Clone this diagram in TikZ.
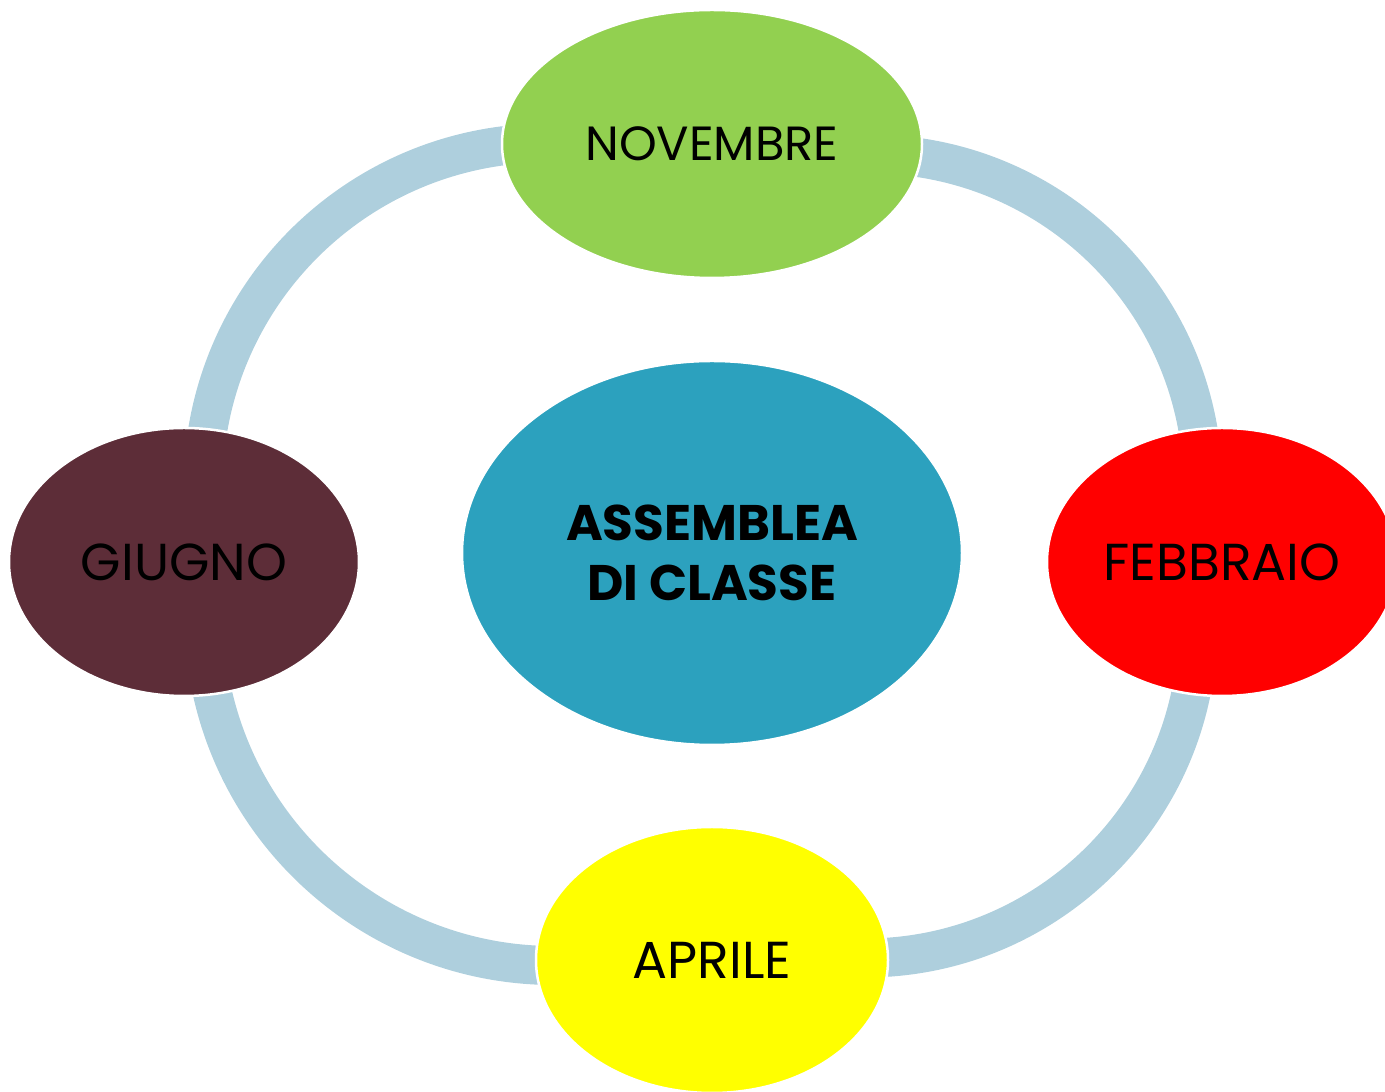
\documentclass[tikz,border=0pt]{standalone}
\usepackage{fontspec}
\setmainfont{Poppins}
\usetikzlibrary{shapes.geometric}
\definecolor{ringc}{RGB}{174,207,221}
\definecolor{novc}{RGB}{146,208,80}
\definecolor{febc}{RGB}{255,0,0}
\definecolor{aprc}{RGB}{255,255,0}
\definecolor{giuc}{RGB}{93,45,56}
\definecolor{cenc}{RGB}{44,161,190}
\begin{document}
\begin{tikzpicture}[x=1pt,y=1pt,
  month/.style={ellipse, draw=white, line width=2.5pt, inner sep=0pt, text=black,
    font=\fontsize{52}{60}\selectfont},
  ring/.style={draw=ringc, line width=39pt}]
\useasboundingbox (0,0) rectangle (1385,1092);
\clip (0,0) rectangle (1385,1092);
% ring arcs (centres of the arcs)
\coordinate (ulc) at (547,605);
\coordinate (urc) at (870,605);
\coordinate (llc) at (553.8,476.5);
\coordinate (lrc) at (865,467);
\draw[ring] ([shift={(92:344)}]ulc) arc[start angle=92, end angle=176, radius=344];
\draw[ring] ([shift={(86:333)}]urc) arc[start angle=86, end angle=5, radius=333];
\draw[ring] ([shift={(187:350)}]llc) arc[start angle=187, end angle=273, radius=350];
\draw[ring] ([shift={(-6:333)}]lrc) arc[start angle=-6, end angle=-92, radius=333];
% nodes
\node[month, fill=novc, minimum width=420, minimum height=268,
  font=\fontsize{48}{56}\selectfont] (nov) at (712,948) {NOVEMBRE};
\node[month, fill=febc, minimum width=350, minimum height=268] (feb) at (1222,530) {FEBBRAIO};
\node[month, fill=aprc, minimum width=352, minimum height=266] (apr) at (712,132) {APRILE};
\node[month, fill=giuc, minimum width=350, minimum height=268] (giu) at (184,530) {GIUGNO};
\node[ellipse, draw=white, line width=2.5pt, fill=cenc, inner sep=0pt,
  minimum width=500, minimum height=384, align=center, text=black,
  font=\bfseries\fontsize{50}{60}\selectfont] (cen) at (712,539) {ASSEMBLEA\\DI CLASSE};
\end{tikzpicture}
\end{document}
